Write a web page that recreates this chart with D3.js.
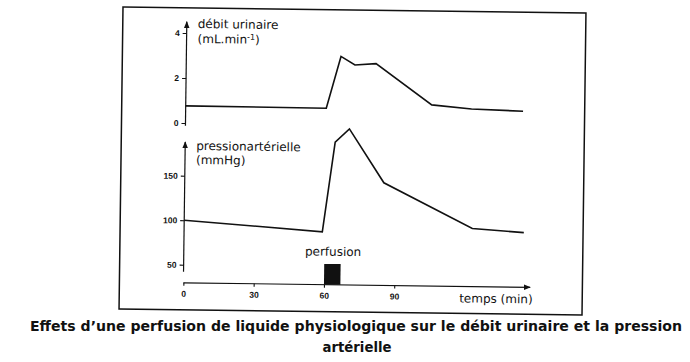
<!DOCTYPE html>
<html>
<head>
<meta charset="utf-8">
<script src="https://cdn.jsdelivr.net/npm/d3@7"></script>
<style>
  html, body { margin: 0; padding: 0; background: #fff; }
  svg { display: block; }
</style>
</head>
<body>
<svg id="chart" width="690" height="362"></svg>
<script>
// ---- data ----
const urineTime = [0, 60, 66, 72, 81, 105, 122, 144];
const urineValue = [0.76, 0.74, 3.05, 2.68, 2.75, 0.95, 0.79, 0.72];
const pressureTime = [0, 59, 64, 70, 85, 123, 145];
const pressureValue = [100, 89, 190, 205, 145, 95, 91];
const perfusionStart = 60, perfusionEnd = 67, perfusionLevel = 53;
const xTicks = [0, 30, 60, 90];
const urineTicks = [0, 2, 4];
const pressureTicks = [50, 100, 150];
const caption = ["Effets d\u2019une perfusion de liquide physiologique sur le débit urinaire et la pression", "artérielle"];

const svg = d3.select("#chart");
const ink = "#111";

// whole scanned figure is slightly tilted
const g = svg.append("g").attr("transform", "rotate(0.75,352,161)");

// frame
g.append("rect").attr("x", 121).attr("y", 10).attr("width", 463).attr("height", 302)
  .attr("fill", "none").attr("stroke", ink).attr("stroke-width", 1.5);

// scales
const x = d3.scaleLinear().domain([0, 150]).range([185, 185 + 150 * 2.343]);
const yTop = d3.scaleLinear().domain([0, 4]).range([125.2, 35.2]);
const yBot = d3.scaleLinear().domain([0, 200]).range([311.4, 133.4]);
const xAxisY = 285;

// arrow marker
const defs = svg.append("defs");
defs.append("marker").attr("id", "arr").attr("viewBox", "0 0 10 10")
  .attr("refX", 9).attr("refY", 5).attr("markerWidth", 7).attr("markerHeight", 7)
  .attr("markerUnits", "userSpaceOnUse").attr("orient", "auto")
  .append("path").attr("d", "M0,1 L10,5 L0,9 Z").attr("fill", ink);

function styleAxis(sel) {
  sel.select(".domain").remove();
  sel.selectAll("line").attr("stroke", ink).attr("stroke-width", 1.1);
  sel.selectAll("text").attr("font-family", "'Liberation Sans', Arial, sans-serif")
    .attr("font-weight", "bold").attr("font-size", 8.5).attr("fill", ink);
}

// top y axis
g.append("line").attr("x1", x(0)).attr("x2", x(0))
  .attr("y1", yTop(-0.12)).attr("y2", yTop(4.5))
  .attr("stroke", ink).attr("stroke-width", 1.2).attr("marker-end", "url(#arr)");
g.append("g").attr("transform", `translate(${x(0)},0)`)
  .call(d3.axisLeft(yTop).tickValues(urineTicks).tickSize(4).tickPadding(3).tickFormat(d3.format("d")))
  .call(styleAxis);

// bottom y axis
g.append("line").attr("x1", x(0)).attr("x2", x(0))
  .attr("y1", yBot(42)).attr("y2", yBot(188))
  .attr("stroke", ink).attr("stroke-width", 1.2).attr("marker-end", "url(#arr)");
g.append("g").attr("transform", `translate(${x(0)},0)`)
  .call(d3.axisLeft(yBot).tickValues(pressureTicks).tickSize(4).tickPadding(3).tickFormat(d3.format("d")))
  .call(styleAxis);

// x axis
g.append("line").attr("x1", x(0)).attr("x2", x(148))
  .attr("y1", xAxisY).attr("y2", xAxisY)
  .attr("stroke", ink).attr("stroke-width", 1.2).attr("marker-end", "url(#arr)");
g.append("g").attr("transform", `translate(0,${xAxisY})`)
  .call(d3.axisBottom(x).tickValues(xTicks).tickSize(3).tickPadding(5).tickFormat(d3.format("d")))
  .call(styleAxis);

// perfusion bar
g.append("rect").attr("x", x(perfusionStart)).attr("width", x(perfusionEnd) - x(perfusionStart))
  .attr("y", yBot(perfusionLevel)).attr("height", xAxisY - yBot(perfusionLevel))
  .attr("fill", ink);

// data lines
const urinePts = urineTime.map((t, i) => [t, urineValue[i]]);
const pressurePts = pressureTime.map((t, i) => [t, pressureValue[i]]);
g.append("path").datum(urinePts)
  .attr("d", d3.line().x(d => x(d[0])).y(d => yTop(d[1])))
  .attr("fill", "none").attr("stroke", ink).attr("stroke-width", 1.6).attr("stroke-linejoin", "miter");
g.append("path").datum(pressurePts)
  .attr("d", d3.line().x(d => x(d[0])).y(d => yBot(d[1])))
  .attr("fill", "none").attr("stroke", ink).attr("stroke-width", 1.6).attr("stroke-linejoin", "miter");

// labels
const lblFont = "'DejaVu Sans', Verdana, sans-serif";
function label(txt, px, py, anchor) {
  return g.append("text").attr("x", px).attr("y", py).attr("text-anchor", anchor || "start")
    .attr("font-family", lblFont).attr("font-size", 12).attr("fill", ink).text(txt);
}
label("débit urinaire", 196, 30);
const unit = label("", 196, 45);
unit.append("tspan").text("(mL.min");
unit.append("tspan").attr("font-size", 8).attr("dy", -4).text("-1");
unit.append("tspan").attr("dy", 4).text(")");
label("pressionartérielle", 196, 152);
label("(mmHg)", 196, 166);
label("perfusion", x((perfusionStart + perfusionEnd) / 2) + 0.5, 256, "middle");
label("temps (min)", 461, 301);

// caption
const capFont = "'DejaVu Sans', Verdana, sans-serif";
svg.append("text").attr("x", 356).attr("y", 331).attr("text-anchor", "middle")
  .attr("font-family", capFont).attr("font-weight", "bold").attr("font-size", 14)
  .attr("textLength", 652).attr("lengthAdjust", "spacingAndGlyphs")
  .attr("fill", ink).text(caption[0]);
svg.append("text").attr("x", 357).attr("y", 352).attr("text-anchor", "middle")
  .attr("font-family", capFont).attr("font-weight", "bold").attr("font-size", 14)
  .attr("textLength", 69).attr("lengthAdjust", "spacingAndGlyphs")
  .attr("fill", ink).text(caption[1]);
</script>
</body>
</html>
